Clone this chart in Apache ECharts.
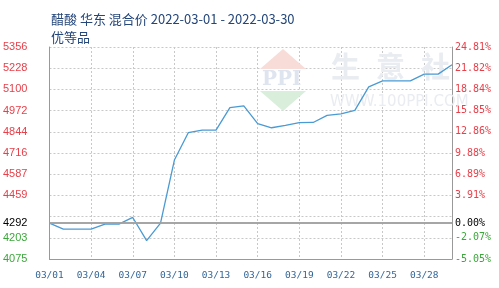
<!DOCTYPE html>
<html>
<head>
<meta charset="utf-8">
<script src="https://cdn.jsdelivr.net/npm/echarts@6/dist/echarts.min.js"></script>
<style>html,body{margin:0;padding:0;background:#fff}#c{width:499px;height:288px}</style>
</head>
<body>
<div id="c"></div>
<script>
var titleText = '醋酸 华东 混合价 2022-03-01 - 2022-03-30';
var subTitle = '优等品';
var categories = ['03/01','03/02','03/03','03/04','03/05','03/06','03/07','03/08','03/09','03/10',
  '03/11','03/12','03/13','03/14','03/15','03/16','03/17','03/18','03/19','03/20',
  '03/21','03/22','03/23','03/24','03/25','03/26','03/27','03/28','03/29','03/30'];
var prices = [4292,4255,4255,4255,4286,4286,4326,4186,4292,4673,
  4838,4854,4854,4990,5000,4893,4868,4882,4899,4900,
  4943,4952,4973,5115,5151,5151,5151,5192,5192,5249];
var baseValue = 4292;
var baseLeftLabel = '4292';
var baseRightLabel = '0.00%';
var yMin = 4075, yMax = 5356, yStep = 128.1;
var leftTicks = ['4075','4203','','4459','4587','4716','4844','4972','5100','5228','5356'];
var rightTicks = ['-5.05%','-2.07%','','3.91%','6.89%','9.88%','12.86%','15.85%','18.84%','21.82%','24.81%'];

function idxOf(v){ return Math.round((v - yMin) / yStep); }
function colorOf(v){ return v > baseValue ? '#e8404a' : (v < baseValue ? '#3aa83a' : '#000'); }

var chart = echarts.init(document.getElementById('c'), null, {renderer:'canvas'});
chart.setOption({
  backgroundColor:'#fff',
  animation:false,
  title:{
    text: titleText + '\n' + subTitle,
    left:46, top:5,
    textStyle:{fontFamily:'Noto Sans CJK SC', fontSize:13, fontWeight:'normal', color:'#24467a', lineHeight:18}
  },
  grid:{left:49, right:47, top:47, bottom:29, containLabel:false},
  graphic:[
    {type:'polygon', z:1, shape:{points:[[283,49],[306,69],[260,69]]}, style:{fill:'#f8dcd8'}},
    {type:'polygon', z:1, shape:{points:[[260,91],[306,91],[283,111]]}, style:{fill:'#d9eedb'}},
    {type:'text', z:1, left:262, top:70, style:{text:'PPI', font:'bold 20px "DejaVu Serif"', fill:'#dfe5ef'}},
    {type:'text', z:1, left:331, top:52, style:{text:'生', font:'bold 29px "Noto Sans CJK SC"', fill:'#e9ecf0'}},
    {type:'text', z:1, left:376, top:52, style:{text:'意', font:'bold 29px "Noto Sans CJK SC"', fill:'#e9ecf0'}},
    {type:'text', z:1, left:421, top:52, style:{text:'社', font:'bold 29px "Noto Sans CJK SC"', fill:'#e9ecf0'}},
    {type:'text', z:1, left:330, top:95, style:{text:'WWW.100PPI.COM', font:'15px "DejaVu Sans"', fill:'#e9ecf0'}}
  ],
  xAxis:{
    type:'category', data:categories, boundaryGap:false,
    axisLine:{lineStyle:{color:'#999', width:1}},
    axisTick:{show:false, interval:2},
    axisLabel:{interval:2, margin:12, color:'#336699', fontFamily:'DejaVu Sans Mono', fontSize:9.5},
    splitLine:{show:true, interval:2, lineStyle:{color:'#c8c8c8', type:[2,2], width:1}}
  },
  yAxis:[
    {type:'value', min:yMin, max:yMax, interval:yStep, position:'left',
      axisLine:{show:true, lineStyle:{color:'#999'}},
      axisTick:{show:false},
      axisLabel:{margin:22, fontFamily:'Liberation Sans', fontSize:11,
        formatter:function(v){ return leftTicks[idxOf(v)] || ''; },
        color:function(v){ return colorOf(v); }},
      splitLine:{show:true, lineStyle:{color:'#c8c8c8', type:[2,2], width:1}}
    },
    {type:'value', min:yMin, max:yMax, interval:yStep, position:'right',
      axisLine:{show:true, lineStyle:{color:'#999'}},
      axisTick:{show:false},
      axisLabel:{margin:3, fontFamily:'DejaVu Sans Mono', fontSize:10,
        formatter:function(v){ return rightTicks[idxOf(v)] || ''; },
        color:function(v){ return colorOf(v); }},
      splitLine:{show:false}
    }
  ],
  series:[{
    type:'line', data:prices, yAxisIndex:0, z:3,
    symbol:'none', smooth:false,
    lineStyle:{color:'#4a9ad4', width:1.3},
    markLine:{
      silent:true, symbol:['none','none'], animation:false,
      lineStyle:{color:'#a0a0a0', width:1.5, type:'solid'},
      data:[
        {yAxis:baseValue, label:{show:true, position:'start', distance:22, formatter:baseLeftLabel, color:'#000', fontFamily:'Liberation Sans', fontSize:11}},
        {yAxis:baseValue, label:{show:true, position:'end', distance:3, formatter:baseRightLabel, color:'#000', fontFamily:'DejaVu Sans Mono', fontSize:10}}
      ]
    }
  }]
});
</script>
</body>
</html>
